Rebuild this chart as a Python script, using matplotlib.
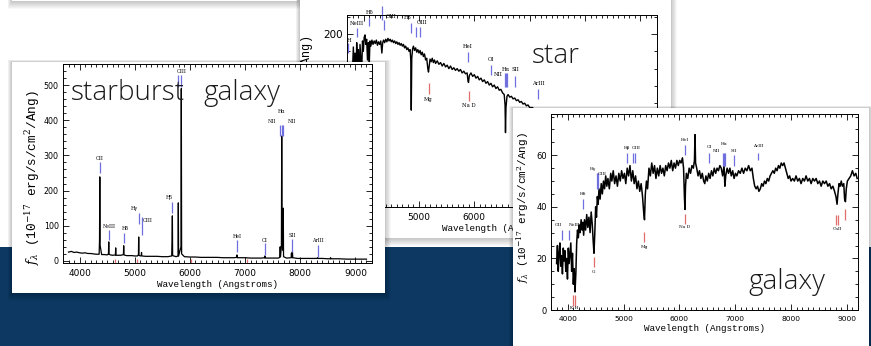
import matplotlib
matplotlib.use("Agg")
import matplotlib.pyplot as plt
from matplotlib.patches import Rectangle
from matplotlib.ticker import MultipleLocator

plt.rcParams["mathtext.fontset"] = "dejavuserif"

W, H = 871, 346
NAVY = "#0c3862"
LINE_COL = {"b": "#6f6fe0", "r": "#e06c6c"}

# ---- starburst galaxy spectrum (Angstrom, 1e-17 erg/s/cm2/A) ----
sb_wave = [3800, 3850, 3900, 3950, 4000, 4050, 4100, 4150, 4200, 4250, 4300, 4355,
           4362, 4367, 4372, 4400, 4450, 4500, 4524, 4529, 4534, 4560, 4600, 4650,
           4655, 4660, 4700, 4750, 4795, 4800, 4805, 4850, 4900, 4950, 5000, 5050,
           5067, 5072, 5077, 5100, 5118, 5123, 5128, 5200, 5300, 5400, 5500, 5600,
           5670, 5677, 5682, 5687, 5750, 5785, 5790, 5795, 5838, 5844, 5850, 5900,
           6000, 6100, 6200, 6300, 6400, 6500, 6600, 6700, 6800, 6848, 6853, 6858,
           6900, 7000, 7100, 7200, 7300, 7353, 7358, 7363, 7400, 7500, 7600, 7631,
           7636, 7641, 7658, 7664, 7670, 7687, 7692, 7697, 7750, 7835, 7840, 7846,
           7852, 7858, 7864, 7950, 8100, 8250, 8308, 8313, 8318, 8400, 8500, 8545,
           8550, 8555, 8700, 8850, 9000, 9100, 9200]
sb_flux = [25, 27, 24, 25, 23, 22, 23, 21, 21, 20, 19, 19,
           60, 239, 45, 18, 18, 17, 20, 54, 19, 17, 16, 17,
           37, 16, 16, 16, 18, 43, 17, 15, 15, 15, 14, 14,
           18, 68, 16, 14, 15, 24, 14, 13, 13, 13, 12, 12,
           14, 60, 128, 15, 12, 14, 165, 14, 40, 490, 20, 12,
           11, 11, 10, 10, 10, 10, 9, 9, 9, 10, 17, 9,
           9, 9, 8, 8, 8, 9, 14, 8, 8, 8, 8, 10,
           40, 12, 40, 355, 60, 30, 150, 12, 8, 9, 22, 10,
           9, 26, 9, 7, 7, 7, 7, 9, 7, 7, 6, 6,
           9, 6, 6, 5, 5, 5, 5]

sb_names = ["OII", "NeIII", "Hδ", "Hγ", "OIII", "Hβ", "", "OIII", "HeI", "OI",
            "NII", "Hα", "NII", "SII", "ArIII", "", "", "", ""]
sb_lines = [4367, 4529, 4800, 5072, 5123, 5682, 5790, 5844, 6853, 7358,
            7636, 7664, 7692, 7848, 8313, 4637, 5033, 6024, 7033]
sb_lo = [250, 60, 50, 105, 75, 136, 494, 494, 26, 17, 355, 355, 355, 26, 11, -6, -6, -6, -6]
sb_hi = [281, 88, 80, 136, 125, 168, 528, 528, 60, 51, 386, 386, 386, 62, 45, 4, 4, 4, 4]
sb_lab_x = [4367, 4529, 4830, 5000, 5230, 5620, 0, 5844, 6853, 7358,
            7480, 7664, 7850, 7848, 8313, 0, 0, 0, 0]
sb_lab_y = [292, 99, 91, 150, 115, 181, 0, 539, 69, 59, 397, 426, 397, 72, 58, 0, 0, 0, 0]
sb_kind = ["b"] * 15 + ["r"] * 4

# ---- star spectrum ----
st_wave = [3800, 3815, 3830, 3845, 3860, 3875, 3890, 3905, 3920, 3935, 3950, 3965,
           3980, 3995, 4010, 4025, 4040, 4055, 4070, 4085, 4100, 4115, 4130, 4150,
           4170, 4190, 4210, 4230, 4250, 4270, 4290, 4310, 4330, 4345, 4360, 4380,
           4400, 4420, 4440, 4460, 4480, 4500, 4520, 4540, 4560, 4580, 4600, 4620,
           4640, 4660, 4680, 4700, 4720, 4740, 4760, 4780, 4800, 4820, 4840, 4852,
           4861, 4870, 4885, 4900, 4920, 4940, 4960, 4980, 5000, 5020, 5040, 5060,
           5080, 5100, 5120, 5140, 5160, 5172, 5185, 5200, 5220, 5240, 5260, 5280,
           5300, 5330, 5360, 5390, 5420, 5450, 5480, 5510, 5540, 5570, 5600, 5630,
           5660, 5690, 5720, 5750, 5780, 5810, 5840, 5870, 5885, 5895, 5910, 5940,
           5970, 6000, 6030, 6060, 6090, 6120, 6150, 6180, 6210, 6240, 6270, 6300,
           6330, 6360, 6390, 6420, 6450, 6480, 6510, 6540, 6555, 6563, 6572, 6590,
           6610, 6640, 6670, 6700, 6730, 6760, 6790, 6820, 6850, 6880, 6910, 6940,
           6970, 7000, 7050, 7100, 7150, 7200, 7300, 7400, 7500, 7600, 7800, 8000,
           8200, 8500, 8800, 9200]
st_flux = [160, 185, 150, 178, 140, 190, 165, 182, 135, 188, 172, 155,
           192, 180, 196, 199, 188, 194, 170, 190, 160, 192, 186, 193,
           188, 192, 189, 193, 187, 191, 188, 192, 178, 190, 193, 190,
           194, 191, 195, 192, 194, 191, 193, 190, 192, 189, 191, 188,
           190, 187, 189, 186, 188, 184, 186, 182, 184, 180, 182, 170,
           112, 172, 183, 186, 181, 184, 179, 182, 178, 181, 176, 179,
           174, 177, 170, 172, 160, 156, 163, 171, 168, 172, 167, 170,
           166, 169, 165, 167, 163, 166, 162, 164, 160, 163, 159, 161,
           158, 160, 157, 159, 155, 157, 154, 155, 146, 144, 152, 155,
           151, 153, 149, 151, 147, 149, 145, 147, 143, 145, 141, 143,
           139, 141, 137, 139, 135, 136, 132, 130, 118, 86, 115, 128,
           130, 127, 128, 125, 126, 123, 124, 121, 122, 119, 120, 117,
           118, 115, 115, 112, 113, 110, 107, 104, 100, 97, 92, 87,
           82, 76, 70, 63]

st_names = ["H", "NeIII", "Hδ", "", "OIII", "Hβ", "", "OIII", "HeI", "OI",
            "NII", "Hα", "", "SII", "ArIII", "Mg", "Na D"]
st_lines = [3718, 3882, 4100, 4340, 4373, 4864, 4955, 5010, 5882, 6300,
            6555, 6573, 6591, 6736, 7155, 5173, 5900]
st_lo = [178, 196, 209, 216, 205, 201, 197, 197, 168, 153, 139, 139, 139, 139, 125, 131, 122]
st_hi = [190, 207, 219, 232, 216, 213, 208, 208, 179, 164, 155, 155, 155, 151, 136, 143, 134]
st_lab_x = [3735, 3882, 4100, 0, 4500, 4800, 0, 5060, 5882, 6300,
            6430, 6573, 0, 6736, 7155, 5173, 5900]
st_lab_y = [193, 212, 225, 0, 220, 219, 0, 213, 186, 171, 153, 159, 0, 159, 143, 124, 117]
st_kind = ["b"] * 15 + ["r"] * 2

# ---- normal galaxy spectrum ----
ga_wave = [3800, 3815, 3830, 3845, 3860, 3875, 3890, 3905, 3920, 3935, 3950, 3965,
           3980, 3995, 4010, 4025, 4040, 4055, 4070, 4085, 4100, 4115, 4130, 4145,
           4160, 4175, 4190, 4205, 4220, 4240, 4255, 4270, 4285, 4300, 4320, 4340,
           4360, 4380, 4400, 4420, 4440, 4455, 4470, 4485, 4500, 4515, 4530, 4545,
           4560, 4580, 4600, 4620, 4640, 4660, 4680, 4700, 4720, 4745, 4770, 4790,
           4815, 4840, 4865, 4890, 4915, 4940, 4965, 4990, 5015, 5040, 5065, 5090,
           5115, 5140, 5165, 5190, 5215, 5240, 5265, 5290, 5315, 5340, 5360, 5375,
           5390, 5410, 5430, 5455, 5480, 5505, 5530, 5555, 5580, 5605, 5630, 5655,
           5680, 5705, 5730, 5755, 5780, 5805, 5830, 5855, 5880, 5905, 5930, 5955,
           5980, 6005, 6030, 6055, 6075, 6090, 6100, 6110, 6125, 6150, 6175, 6200,
           6225, 6250, 6270, 6280, 6290, 6310, 6335, 6360, 6385, 6410, 6435, 6455,
           6475, 6500, 6525, 6550, 6575, 6600, 6625, 6650, 6675, 6700, 6725, 6750,
           6775, 6800, 6815, 6830, 6855, 6880, 6905, 6930, 6955, 6980, 7005, 7030,
           7060, 7090, 7120, 7150, 7180, 7210, 7240, 7270, 7300, 7325, 7350, 7375,
           7400, 7425, 7450, 7475, 7500, 7525, 7550, 7575, 7600, 7625, 7650, 7675,
           7700, 7725, 7750, 7775, 7800, 7825, 7850, 7875, 7900, 7925, 7950, 7975,
           8000, 8030, 8060, 8090, 8120, 8150, 8180, 8210, 8240, 8270, 8300, 8330,
           8360, 8390, 8420, 8450, 8480, 8510, 8540, 8570, 8600, 8630, 8660, 8690,
           8720, 8750, 8780, 8805, 8825, 8840, 8860, 8880, 8900, 8920, 8945, 8960,
           8975, 8990, 9010, 9040, 9070, 9100, 9130, 9160, 9185]
ga_flux = [18, 25, 15, 22, 26, 17, 21, 14, 24, 19, 23, 15,
           20, 12, 24, 18, 22, 26, 15, 22, 10, 16, 7, 14,
           26, 31, 28, 33, 30, 35, 31, 34, 29, 35, 31, 37,
           32, 36, 30, 38, 33, 27, 22, 30, 40, 36, 44, 41,
           47, 43, 49, 45, 50, 47, 52, 48, 51, 47, 53, 50,
           54, 49, 52, 48, 53, 50, 54, 51, 53, 49, 55, 52,
           56, 50, 54, 49, 52, 47, 50, 46, 49, 44, 38, 35,
           45, 50, 47, 55, 52, 57, 53, 56, 51, 55, 52, 56,
           53, 55, 52, 56, 54, 57, 55, 58, 54, 57, 55, 58,
           56, 58, 57, 59, 55, 44, 39, 48, 53, 51, 55, 53,
           56, 55, 58, 68, 57, 55, 52, 54, 51, 53, 50, 49,
           52, 50, 53, 51, 54, 52, 55, 53, 55, 54, 56, 55,
           52, 56, 48, 52, 55, 53, 55, 52, 54, 51, 53, 52,
           54, 53, 55, 53, 55, 54, 56, 54, 55, 51, 48, 47,
           48, 46, 47, 49, 48, 50, 49, 51, 50, 52, 53, 54,
           53, 55, 54, 56, 55, 57, 56, 57, 55, 53, 51, 52,
           50, 51, 50, 52, 50, 51, 49, 51, 50, 52, 50, 51,
           49, 51, 50, 51, 49, 50, 48, 50, 49, 50, 48, 49,
           47, 48, 46, 44, 41, 45, 49, 48, 50, 48, 49, 43,
           42, 47, 50, 51, 52, 54, 52, 53, 51]

ga_names = ["OII", "NeIII", "Hδ", "Hγ", "OIII", "Hβ", "", "OIII", "HeI", "OI",
            "NII", "Hα", "", "SII", "ArIII", "Na D", "Mg", "G", "", "K H", "", "CaII", ""]
ga_lines = [3897, 4023, 4273, 4524, 4542, 5062, 5170, 5205, 6101, 6531,
            6782, 6800, 6818, 6980, 7410, 6101, 5367, 4470, 4094, 4130, 8807, 8843, 8969]
ga_lo = [27, 27, 39, 47, 47, 57, 57, 57, 60, 57, 56, 56, 56, 56, 58,
         33.4, 26.4, 16.7, 1.5, 1.5, 33, 33, 35]
ga_hi = [31, 31, 43, 53, 53, 61, 61, 61, 64, 61, 61, 61, 61, 60, 61,
         37.3, 30.3, 20.6, 5.8, 5.8, 37, 37, 39]
ga_lab_x = [3825, 4115, 4273, 4460, 4620, 5062, 0, 5223, 6101, 6531,
            6665, 6800, 0, 6975, 7410, 6101, 5367, 4470, 0, 4110, 0, 8825, 0]
ga_lab_y = [33, 33, 44.8, 54.8, 52.6, 62.8, 0, 62.8, 65.8, 63.2,
            61.8, 64.4, 0, 61.8, 63.5, 32, 24.3, 14.8, 0, 0.9, 0, 31.3, 0]
ga_kind = ["b"] * 15 + ["r"] * 8

YLABEL = r"$f_\lambda$ (10$^{-17}$ erg/s/cm$^2$/Ang)"

fig = plt.figure(figsize=(W / 100, H / 100), dpi=100)
fig.patch.set_facecolor("white")


def rect(l, t, r, b):
    return [l / W, 1 - b / H, (r - l) / W, (b - t) / H]


def add_rect(l, t, r, b, z, **kw):
    x0, y0, w, h = rect(l, t, r, b)
    fig.add_artist(Rectangle((x0, y0), w, h, transform=fig.transFigure,
                             edgecolor="none", zorder=z, **kw))


def card(l, t, r, b, z):
    # soft drop shadow, a bit heavier toward the bottom
    for i in range(1, 9):
        g = i * 0.9
        add_rect(l - g * 0.6, t - g * 0.3, r + g * 0.8, b + g * 1.1, z - 1,
                 facecolor="black", alpha=0.028)
    add_rect(l, t, r, b, z, facecolor="white")


def panel(box, z, wave, flux, xlim, ylim, ymaj, ymin, names, lines, lo, hi,
          lab_x, lab_y, kind, xfs, yfs, ylfs, ylab_xy, lab_fs, lw):
    ax = fig.add_axes(rect(*box))
    ax.set_zorder(z)
    ax.plot(wave, flux, color="black", lw=lw)
    for n, w, a, b, lx, ly, k in zip(names, lines, lo, hi, lab_x, lab_y, kind):
        ax.vlines(w, a, b, colors=LINE_COL[k], lw=0.9, clip_on=False)
        if n:
            ax.text(lx, ly, n, fontsize=lab_fs, family="DejaVu Serif",
                    ha="center", va="center", clip_on=False)
    ax.set_xlim(*xlim)
    ax.set_ylim(*ylim)
    ax.xaxis.set_major_locator(MultipleLocator(1000))
    ax.xaxis.set_minor_locator(MultipleLocator(100))
    ax.yaxis.set_major_locator(MultipleLocator(ymaj))
    ax.yaxis.set_minor_locator(MultipleLocator(ymin))
    ax.tick_params(which="both", direction="in", top=True, right=True, width=0.6)
    ax.tick_params(which="major", length=4)
    ax.tick_params(which="minor", length=2)
    ax.tick_params(axis="x", labelsize=xfs, pad=4)
    ax.tick_params(axis="y", labelsize=yfs, pad=3)
    for s in ax.spines.values():
        s.set_linewidth(0.7)
    ax.set_xlabel("Wavelength (Angstroms)", family="Liberation Mono", fontsize=6.7,
                  labelpad=1.5)
    ax.set_ylabel(YLABEL, family="Liberation Mono", fontsize=ylfs)
    ax.yaxis.set_label_coords(*ylab_xy)
    return ax


def big_text(x, y, s, z):
    fig.text(x / W, 1 - y / H, s, fontsize=20, family="Open Sans", fontweight=300,
             color="#1a1a1a", zorder=z)


# background: white slide with a navy band at the bottom
add_rect(0, 247, W, H + 5, 0.5, facecolor=NAVY)

# bottom edge of a card sitting above the visible area
card(12, -30, 297, 1, 2)

# star card
card(300, -30, 671, 238, 5)
panel((347, 15, 657, 207), 6, st_wave, st_flux, (3700, 9300), (0, 222), 100, 20,
      st_names, st_lines, st_lo, st_hi, st_lab_x, st_lab_y, st_kind,
      6.5, 7.5, 8.5, (-0.10, 0.47), 3.8, 1.0)
big_text(532, 63, "star", 7)

# starburst galaxy card
card(12, 62, 385, 293, 10)
panel((63, 64, 372, 263), 11, sb_wave, sb_flux, (3700, 9300), (-6, 560), 100, 20,
      sb_names, sb_lines, sb_lo, sb_hi, sb_lab_x, sb_lab_y, sb_kind,
      6.5, 5.7, 9.2, (-0.068, 0.427), 3.4, 0.9)
big_text(71, 100, "starburst", 12)
big_text(203, 100, "galaxy", 12)

# galaxy card
card(513, 108, 869, 360, 15)
panel((551, 114, 858, 310), 16, ga_wave, ga_flux, (3700, 9200), (0, 76), 20, 5,
      ga_names, ga_lines, ga_lo, ga_hi, ga_lab_x, ga_lab_y, ga_kind,
      5.4, 6.0, 7.9, (-0.065, 0.523), 3.2, 1.1)
big_text(748, 289, "galaxy", 17)

fig.savefig("out.png", dpi=100)
